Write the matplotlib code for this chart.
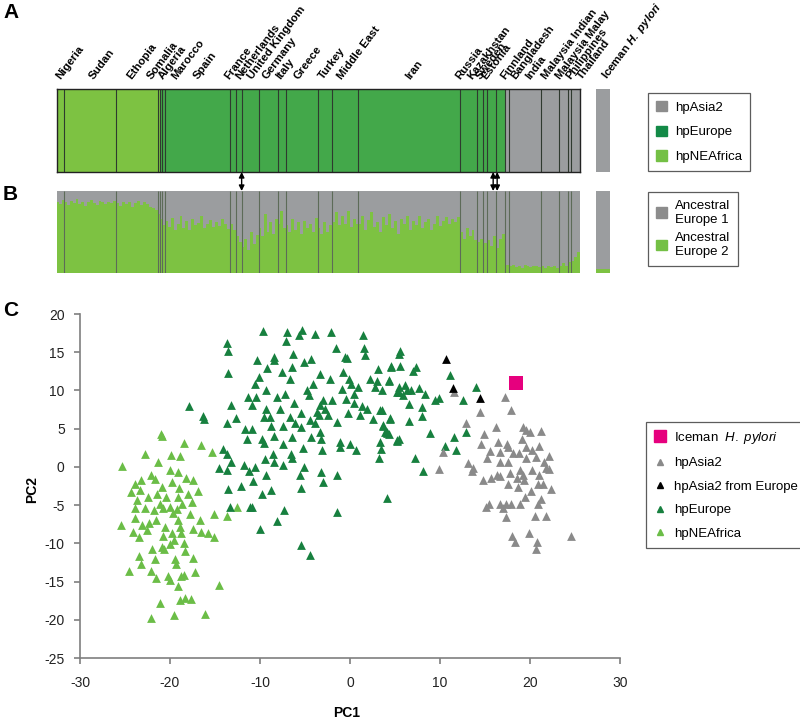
import numpy as np
import matplotlib
matplotlib.use('Agg')
import matplotlib.pyplot as plt
from matplotlib.patches import Patch
from matplotlib.lines import Line2D

plt.rcParams['font.family'] = ['Liberation Sans', 'DejaVu Sans']
plt.rcParams['axes.unicode_minus'] = False
plt.rcParams['mathtext.fontset'] = 'custom'
plt.rcParams['mathtext.rm'] = 'Liberation Sans'
plt.rcParams['mathtext.it'] = 'Liberation Sans:italic'
plt.rcParams['mathtext.bf'] = 'Liberation Sans:bold'
plt.rcParams['mathtext.bfit'] = 'Liberation Sans:bold:italic'

# ---- panel A / B data: populations, sample counts, hp assignment ----
populations = ['Nigeria', 'Sudan', 'Ethopia', 'Somalia', 'Algeria', 'Marocco', 'Spain',
               'France', 'Netherlands', 'United Kingdom', 'Germany', 'Italy', 'Greece',
               'Turkey', 'Middle East', 'Iran', 'Russia', 'Kazakhstan', 'Sweden', 'Estonia',
               'Finnland', 'Bangladesh', 'India', 'Malaysia Indian', 'Malaysia Malay',
               'Philippines', 'Thailand']
pop_sizes = [7, 52, 42, 2, 2, 3, 65, 6, 6, 17, 19, 8, 32, 15, 26, 102, 17, 6, 4, 9, 9,
             4, 32, 18, 9, 3, 9]
pop_hp = ['NEAfrica'] * 4 + ['Europe'] * 17 + ['Asia2'] * 6

# label anchors (sample index) -- spread out where populations are crowded
label_pos = [0, 33, 71, 91, 102, 115, 137, 169, 180, 192, 206, 220, 238, 263, 282,
             350, 400, 412, 420, 426, 445, 456, 470, 486, 500, 511, 522]

# panel B: fraction of "Ancestral Europe 2" per (group of) sample(s)
anc_europe2 = [
    [0.87, 0.84, 0.89],
    [0.86, 0.83, 0.88, 0.85, 0.9, 0.84, 0.87, 0.82, 0.86, 0.89, 0.85, 0.83, 0.88, 0.86,
     0.84, 0.87, 0.85, 0.88],
    [0.85, 0.82, 0.87, 0.84, 0.86, 0.81, 0.85, 0.88, 0.83, 0.86, 0.84, 0.81, 0.79, 0.77],
    [0.72],
    [0.66],
    [0.62, 0.58],
    [0.64, 0.56, 0.67, 0.53, 0.6, 0.69, 0.55, 0.63, 0.52, 0.66, 0.58, 0.61, 0.7, 0.55,
     0.6, 0.65, 0.56, 0.62, 0.57, 0.66, 0.6, 0.54],
    [0.6, 0.52],
    [0.45, 0.38],
    [0.32, 0.42, 0.28, 0.5, 0.35, 0.46],
    [0.55, 0.45, 0.72, 0.5, 0.62, 0.48, 0.66],
    [0.6, 0.76, 0.55],
    [0.58, 0.5, 0.66, 0.52, 0.62, 0.48, 0.64, 0.55, 0.6, 0.5, 0.67],
    [0.55, 0.48, 0.62, 0.5, 0.58],
    [0.62, 0.74, 0.58, 0.7, 0.6, 0.76, 0.56, 0.66, 0.6],
    [0.6, 0.7, 0.52, 0.65, 0.74, 0.56, 0.62, 0.5, 0.68, 0.58, 0.72, 0.55, 0.63, 0.48,
     0.66, 0.6, 0.7, 0.53, 0.64, 0.58, 0.69, 0.55, 0.62, 0.66, 0.52, 0.6, 0.7, 0.57,
     0.64, 0.68, 0.6, 0.66, 0.62, 0.68],
    [0.5, 0.42, 0.55, 0.45, 0.52, 0.4],
    [0.38, 0.42],
    [0.36],
    [0.4, 0.33, 0.45],
    [0.3, 0.42, 0.48],
    [0.1],
    [0.08, 0.1, 0.07, 0.09, 0.06, 0.1, 0.08, 0.07, 0.09, 0.08, 0.07],
    [0.08, 0.06, 0.09, 0.07, 0.08, 0.06],
    [0.09, 0.12, 0.08],
    [0.14],
    [0.15, 0.2, 0.26],
]
iceman_anc_europe2 = 0.05
arrow_samples = [185, 437, 441]

# ---- panel C data: PCA coordinates (PC1, PC2) ----
neafrica_pts = [(-21.0, 4.3), (-20.9, 4.0), (-18.5, 3.1), (-16.6, 2.8), (-15.3, 2.0),
    (-22.8, 1.7), (-19.9, 1.6), (-18.9, 1.4), (-21.3, 0.7), (-25.3, 0.1), (-22.1, -1.1),
    (-20.0, -0.4), (-19.1, -0.7), (-18.2, -1.5), (-17.4, -1.7), (-23.2, -1.7), (-23.9, -2.2),
    (-21.7, -1.6), (-20.9, -2.6), (-19.8, -2.0), (-19.0, -2.8), (-16.9, -3.2), (-24.3, -3.3),
    (-23.3, -3.0), (-22.4, -3.9), (-21.5, -3.5), (-20.4, -3.9), (-19.1, -3.9), (-18.0, -3.6),
    (-23.7, -4.3), (-21.1, -4.8), (-20.0, -5.2), (-19.2, -5.5), (-18.7, -4.8), (-17.6, -4.6),
    (-23.9, -5.4), (-22.8, -5.4), (-21.8, -5.7), (-20.8, -5.4), (-19.7, -6.0), (-17.8, -6.2),
    (-16.7, -7.0), (-15.1, -6.2), (-12.6, -5.2), (-13.7, -6.4), (-25.4, -7.6), (-23.9, -6.7),
    (-23.1, -7.6), (-22.3, -7.4), (-21.6, -7.0), (-20.6, -7.8), (-19.1, -7.0), (-18.9, -7.9),
    (-17.4, -8.1), (-16.6, -8.5), (-15.8, -8.6), (-24.1, -8.5), (-22.6, -8.3), (-19.8, -8.7),
    (-18.8, -8.7), (-23.4, -9.2), (-20.8, -9.1), (-19.6, -9.5), (-15.1, -9.2), (-22.0, -10.7),
    (-20.9, -10.5), (-20.0, -10.1), (-18.4, -10.0), (-18.3, -11.0), (-20.7, -10.8),
    (-23.5, -11.7), (-21.7, -12.1), (-19.4, -12.1), (-17.4, -11.9), (-23.2, -12.7),
    (-19.3, -12.7), (-24.6, -13.6), (-22.1, -13.6), (-17.2, -13.8), (-20.2, -14.3),
    (-18.8, -14.3), (-21.6, -14.6), (-20.0, -14.8), (-18.5, -14.2), (-19.1, -15.6),
    (-14.6, -15.5), (-18.9, -17.4), (-18.3, -17.1), (-17.7, -17.3), (-21.1, -17.8),
    (-22.1, -19.8), (-19.6, -19.4), (-16.1, -19.3)]

europe_pts = [(-13.7, 16.2), (-13.6, 15.1), (-13.6, 12.3), (-17.9, 8.0), (-16.3, 6.7),
    (-16.2, 6.3), (-13.7, 5.7), (-13.2, 8.1), (-12.7, 6.4), (-14.1, 2.3), (-13.7, 1.7),
    (-13.2, 0.7), (-14.6, -0.2), (-13.7, -0.4), (-13.6, -2.9), (-13.3, -5.2), (-12.1, -2.5),
    (-11.8, 0.2), (-11.2, -0.5), (-10.6, 0.0), (-11.1, -5.2), (-10.9, -5.2), (-10.8, -1.8),
    (-10.0, -8.1), (-11.7, 5.0), (-10.9, 5.0), (-11.4, 3.7), (-11.3, 9.1), (-10.9, 8.1),
    (-10.4, 9.1), (-10.6, 10.9), (-10.1, 11.7), (-10.3, 14.0), (-9.7, 17.8), (-9.6, 6.5),
    (-9.8, 3.7), (-9.6, 3.1), (-9.5, 1.0), (-9.3, -1.0), (-9.8, -3.6), (-8.8, -3.0),
    (-8.1, -7.1), (-9.3, 10.1), (-9.3, 7.6), (-9.2, 12.9), (-8.9, 6.5), (-8.8, 5.4),
    (-8.5, 4.1), (-8.6, 1.7), (-8.5, 0.7), (-8.4, 14.4), (-8.4, 14.0), (-8.1, 9.2),
    (-7.8, 7.6), (-7.6, 12.4), (-7.5, 5.4), (-7.4, 3.0), (-7.5, 0.2), (-7.3, -5.7),
    (-7.2, 9.6), (-7.0, 17.6), (-7.1, 16.5), (-6.7, 6.5), (-6.7, 11.5), (-6.6, 1.7),
    (-6.5, 3.9), (-6.5, 1.1), (-6.4, 13.1), (-6.3, 14.8), (-6.2, 8.3), (-6.1, 5.7),
    (-5.7, 17.2), (-5.6, -1.1), (-5.4, -2.7), (-5.4, -10.2), (-5.3, 17.9), (-5.4, 7.0),
    (-5.4, 5.2), (-5.2, 2.5), (-5.1, 13.7), (-5.1, 0.0), (-4.8, 10.0), (-4.6, 9.4),
    (-4.5, 6.1), (-4.4, -11.5), (-4.3, 14.1), (-4.3, 3.9), (-4.1, 10.9), (-3.9, 17.4),
    (-3.9, 5.7), (-3.7, 7.2), (-3.4, 6.8), (-3.3, 12.2), (-3.3, 4.6), (-3.2, 3.6),
    (-3.2, -0.7), (-3.1, 2.2), (-3.0, -2.0), (-3.3, 8.1), (-3.0, 8.7), (-2.8, 7.6),
    (-2.5, 6.8), (-2.2, 11.5), (-2.1, 17.6), (-2.0, 8.7), (-1.6, 15.6), (-1.5, -1.1),
    (-1.4, -5.9), (-1.4, 5.9), (-1.1, 3.3), (-1.1, 2.6), (-0.9, 10.2), (-0.8, 12.4),
    (-0.6, 14.4), (-0.4, 8.9), (-0.3, 14.2), (-0.2, 7.0), (-0.1, 11.5), (0.0, 3.0),
    (0.1, 10.9), (0.4, 9.6), (0.4, 8.4), (0.7, 2.2), (0.9, 10.5), (1.1, 6.8), (1.3, 7.9),
    (1.4, 17.2), (1.6, 15.5), (1.7, 14.6), (1.9, 7.6), (2.2, 11.5), (2.5, 6.3), (2.8, 10.5),
    (3.0, 11.3), (3.1, 12.8), (3.3, 7.4), (3.3, 3.3), (3.4, 2.3), (3.2, 1.1), (3.7, 5.4),
    (4.1, 4.6), (4.1, 4.4), (4.3, 11.3), (4.4, 6.3), (4.6, 13.1), (5.2, 9.8), (5.2, 3.5),
    (5.4, 14.8), (4.1, -4.1), (5.6, 15.1), (4.6, 13.2), (5.5, 13.2), (7.0, 12.5),
    (7.3, 13.1), (11.1, 12.0), (4.3, 11.4), (5.4, 10.5), (6.1, 10.7), (6.3, 10.1),
    (6.8, 10.1), (7.7, 10.3), (8.3, 9.5), (9.4, 8.7), (9.9, 9.0), (12.6, 8.7), (14.0, 10.4),
    (3.5, 10.1), (5.4, 9.8), (5.9, 9.4), (6.5, 8.2), (8.0, 7.8), (3.5, 7.4), (4.4, 6.4),
    (8.0, 6.7), (6.5, 6.0), (3.7, 5.5), (3.9, 4.5), (4.3, 4.3), (5.4, 3.7), (5.2, 3.4),
    (8.9, 4.4), (11.6, 3.9), (12.9, 4.5), (10.6, 2.7), (11.8, 2.2), (7.2, 1.1), (8.1, -0.6)]

asia2_pts = [(11.6, 9.8), (17.2, 9.2), (14.4, 7.2), (17.9, 7.4), (12.9, 5.7), (16.2, 5.2),
    (19.2, 5.2), (19.6, 4.8), (20.0, 4.6), (21.2, 4.7), (14.9, 4.3), (19.1, 3.7), (10.3, 2.0),
    (14.6, 3.0), (16.4, 3.2), (17.4, 3.0), (17.6, 2.6), (15.6, 2.1), (16.7, 1.9), (18.1, 1.8),
    (18.8, 1.8), (19.6, 2.6), (20.2, 2.2), (21.0, 2.7), (19.6, 1.1), (20.7, 1.3), (22.1, 1.4),
    (15.2, 1.1), (16.7, 0.6), (17.6, 0.6), (21.5, 0.6), (21.8, -0.2), (22.1, -0.3), (9.9, -0.3),
    (13.1, 0.5), (13.7, -0.1), (13.5, -0.5), (18.9, -0.4), (20.2, -0.4), (14.8, -1.7),
    (15.7, -1.5), (16.3, -1.1), (16.7, -1.2), (17.8, -0.8), (18.5, -1.4), (19.2, -1.1),
    (21.0, -1.1), (17.6, -2.2), (18.7, -2.6), (19.3, -1.7), (20.9, -2.2), (21.4, -2.2),
    (22.3, -2.9), (20.1, -3.2), (19.4, -4.0), (21.2, -4.2), (15.4, -4.8), (15.1, -5.2),
    (16.7, -4.8), (17.3, -4.8), (17.9, -4.9), (18.9, -4.8), (17.0, -5.4), (20.9, -4.9),
    (17.3, -6.5), (20.6, -6.4), (21.8, -6.4), (18.0, -9.0), (18.3, -9.8), (19.9, -8.6),
    (20.8, -9.8), (20.7, -10.7), (24.6, -9.0)]

asia2_europe_pts = [(10.7, 14.1), (11.4, 10.3), (14.4, 9.0)]
iceman_pt = [(18.4, 11.0)]

# colours
grey_bar = '#9b9d9f'
eu_bar = '#43a84a'
af_bar = '#7dc242'
hp_colors = {'Asia2': grey_bar, 'Europe': eu_bar, 'NEAfrica': af_bar}

W, H = 800, 719
fig = plt.figure(figsize=(8, 7.19), dpi=100)


def px_axes(x0, y0, x1, y1):
    return fig.add_axes([x0 / W, 1 - y1 / H, (x1 - x0) / W, (y1 - y0) / H])


n_total = sum(pop_sizes)
starts = np.concatenate([[0], np.cumsum(pop_sizes)[:-1]])

# ---------------- panel A ----------------
ax_a = px_axes(57, 89, 580, 172)
ax_a.bar(starts, [1] * len(pop_sizes), width=pop_sizes, align='edge',
         color=[hp_colors[h] for h in pop_hp], linewidth=0)
ax_a.vlines(starts[1:], 0, 1, color='#2f3a2f', lw=0.8)
ax_a.set_xlim(0, n_total)
ax_a.set_ylim(0, 1)
ax_a.set_xticks([])
ax_a.set_yticks([])
for s in ax_a.spines.values():
    s.set_color('#222222')
    s.set_linewidth(1.0)

for name, xp in zip(populations, label_pos):
    ax_a.text(xp + 4, 1.11, name, rotation=53, rotation_mode='anchor', ha='left', va='baseline',
              fontsize=8.2, fontweight='bold', transform=ax_a.get_xaxis_transform())

ax_a_ice = px_axes(596, 89, 610, 172)
ax_a_ice.bar([0], [1], width=1, align='edge', color=grey_bar, linewidth=0)
ax_a_ice.set_xlim(0, 1)
ax_a_ice.set_ylim(0, 1)
ax_a_ice.axis('off')
ax_a_ice.text(0.8, 1.11, r'Iceman $\mathbfit{H.\ pylori}$', rotation=53, rotation_mode='anchor',
              ha='left', va='baseline', fontsize=8.2, fontweight='bold',
              transform=ax_a_ice.transAxes)

# ---------------- panel B ----------------
ax_b = px_axes(57, 191, 580, 273)
for st, size, vals in zip(starts, pop_sizes, anc_europe2):
    w = size / len(vals)
    xs = st + w * np.arange(len(vals))
    ax_b.bar(xs, [1] * len(vals), width=w, align='edge', color=grey_bar, linewidth=0)
    ax_b.bar(xs, vals, width=w, align='edge', color=af_bar, linewidth=0)
ax_b.vlines(starts[1:], 0, 1, color='#5d6b58', lw=0.8)
ax_b.set_xlim(0, n_total)
ax_b.set_ylim(0, 1)
ax_b.axis('off')

ax_b_ice = px_axes(596, 191, 610, 273)
ax_b_ice.bar([0], [1], width=1, align='edge', color=grey_bar, linewidth=0)
ax_b_ice.bar([0], [iceman_anc_europe2], width=1, align='edge', color=af_bar, linewidth=0)
ax_b_ice.set_xlim(0, 1)
ax_b_ice.set_ylim(0, 1)
ax_b_ice.axis('off')

for xs in arrow_samples:
    ax_b.annotate('', xy=(xs, 1.0), xycoords=ax_b.transData,
                  xytext=(xs, 0.0), textcoords=ax_a.transData,
                  arrowprops=dict(arrowstyle='<|-|>', color='black', lw=1.0,
                                  shrinkA=0, shrinkB=0, mutation_scale=8))

# legends for A and B
leg_kw = dict(loc='upper left', frameon=True, fancybox=False, fontsize=9.5,
              handlelength=0.85, handleheight=0.85, handletextpad=0.6,
              borderpad=0.6, labelspacing=0.9, borderaxespad=0)
leg_a = fig.legend(handles=[Patch(color='#8c8c8c', label='hpAsia2'),
                            Patch(color='#138a47', label='hpEurope'),
                            Patch(color='#74c045', label='hpNEAfrica')],
                   bbox_to_anchor=(648 / W, 1 - 93 / H), **leg_kw)
leg_a.get_frame().set_edgecolor('#333333')
leg_a.get_frame().set_linewidth(0.9)

leg_b = fig.legend(handles=[Patch(color='#8c8c8c', label='Ancestral\nEurope 1'),
                            Patch(color='#74c045', label='Ancestral\nEurope 2')],
                   bbox_to_anchor=(648 / W, 1 - 192 / H), **dict(leg_kw, labelspacing=0.5))
leg_b.get_frame().set_edgecolor('#333333')
leg_b.get_frame().set_linewidth(0.9)

# ---------------- panel C ----------------
ax_c = px_axes(80, 314, 620, 658)
groups = [
    (neafrica_pts, '#6bbd47', '^', 40, 'hpNEAfrica'),
    (europe_pts, '#17803f', '^', 40, 'hpEurope'),
    (asia2_pts, '#8a8a8a', '^', 40, 'hpAsia2'),
    (asia2_europe_pts, '#000000', '^', 40, 'hpAsia2 from Europe'),
    (iceman_pt, '#e6007e', 's', 100, 'Iceman H. pylori'),
]
for pts, col, mk, sz, lab in groups:
    arr = np.array(pts)
    ax_c.scatter(arr[:, 0], arr[:, 1], s=sz, marker=mk, color=col, linewidths=0)

ax_c.set_xlim(-30, 30)
ax_c.set_ylim(-25, 20)
ax_c.set_xticks(range(-30, 31, 10))
ax_c.set_yticks(range(-25, 21, 5))
for side in ['top', 'right']:
    ax_c.spines[side].set_visible(False)
for side in ['left', 'bottom']:
    ax_c.spines[side].set_color('#7f7f7f')
    ax_c.spines[side].set_linewidth(1.2)
ax_c.tick_params(direction='out', length=4, width=1.2, color='#7f7f7f',
                 labelsize=10, labelcolor='#222222')
ax_c.tick_params(axis='x', pad=9)
ax_c.tick_params(axis='y', pad=7)
fig.text(347 / W, 1 - 713 / H, 'PC1', fontsize=10, fontweight='bold', ha='center', va='center')
fig.text(32 / W, 1 - 490 / H, 'PC2', fontsize=10, fontweight='bold', ha='center', va='center',
         rotation=90)

leg_c_handles = [
    Line2D([], [], ls='none', marker='s', ms=8, color='#e6007e', label=r'Iceman  $\mathit{H.\ pylori}$'),
    Line2D([], [], ls='none', marker='^', ms=5, color='#8a8a8a', label='hpAsia2'),
    Line2D([], [], ls='none', marker='^', ms=5, color='#000000', label='hpAsia2 from Europe'),
    Line2D([], [], ls='none', marker='^', ms=5, color='#17803f', label='hpEurope'),
    Line2D([], [], ls='none', marker='^', ms=5, color='#6bbd47', label='hpNEAfrica'),
]
leg_c = fig.legend(handles=leg_c_handles, loc='upper left', bbox_to_anchor=(646 / W, 1 - 422 / H),
                   frameon=True, fancybox=False, fontsize=9.5, handlelength=0.9,
                   handletextpad=0.6, borderpad=0.6, labelspacing=0.85, borderaxespad=0)
leg_c.get_frame().set_edgecolor('#333333')
leg_c.get_frame().set_linewidth(0.9)

# panel letters
for letter, y in [('A', 12), ('B', 195), ('C', 310)]:
    fig.text(3 / W, 1 - y / H, letter, fontsize=15, fontweight='bold', ha='left', va='center')

fig.savefig('out.png', dpi=100)
